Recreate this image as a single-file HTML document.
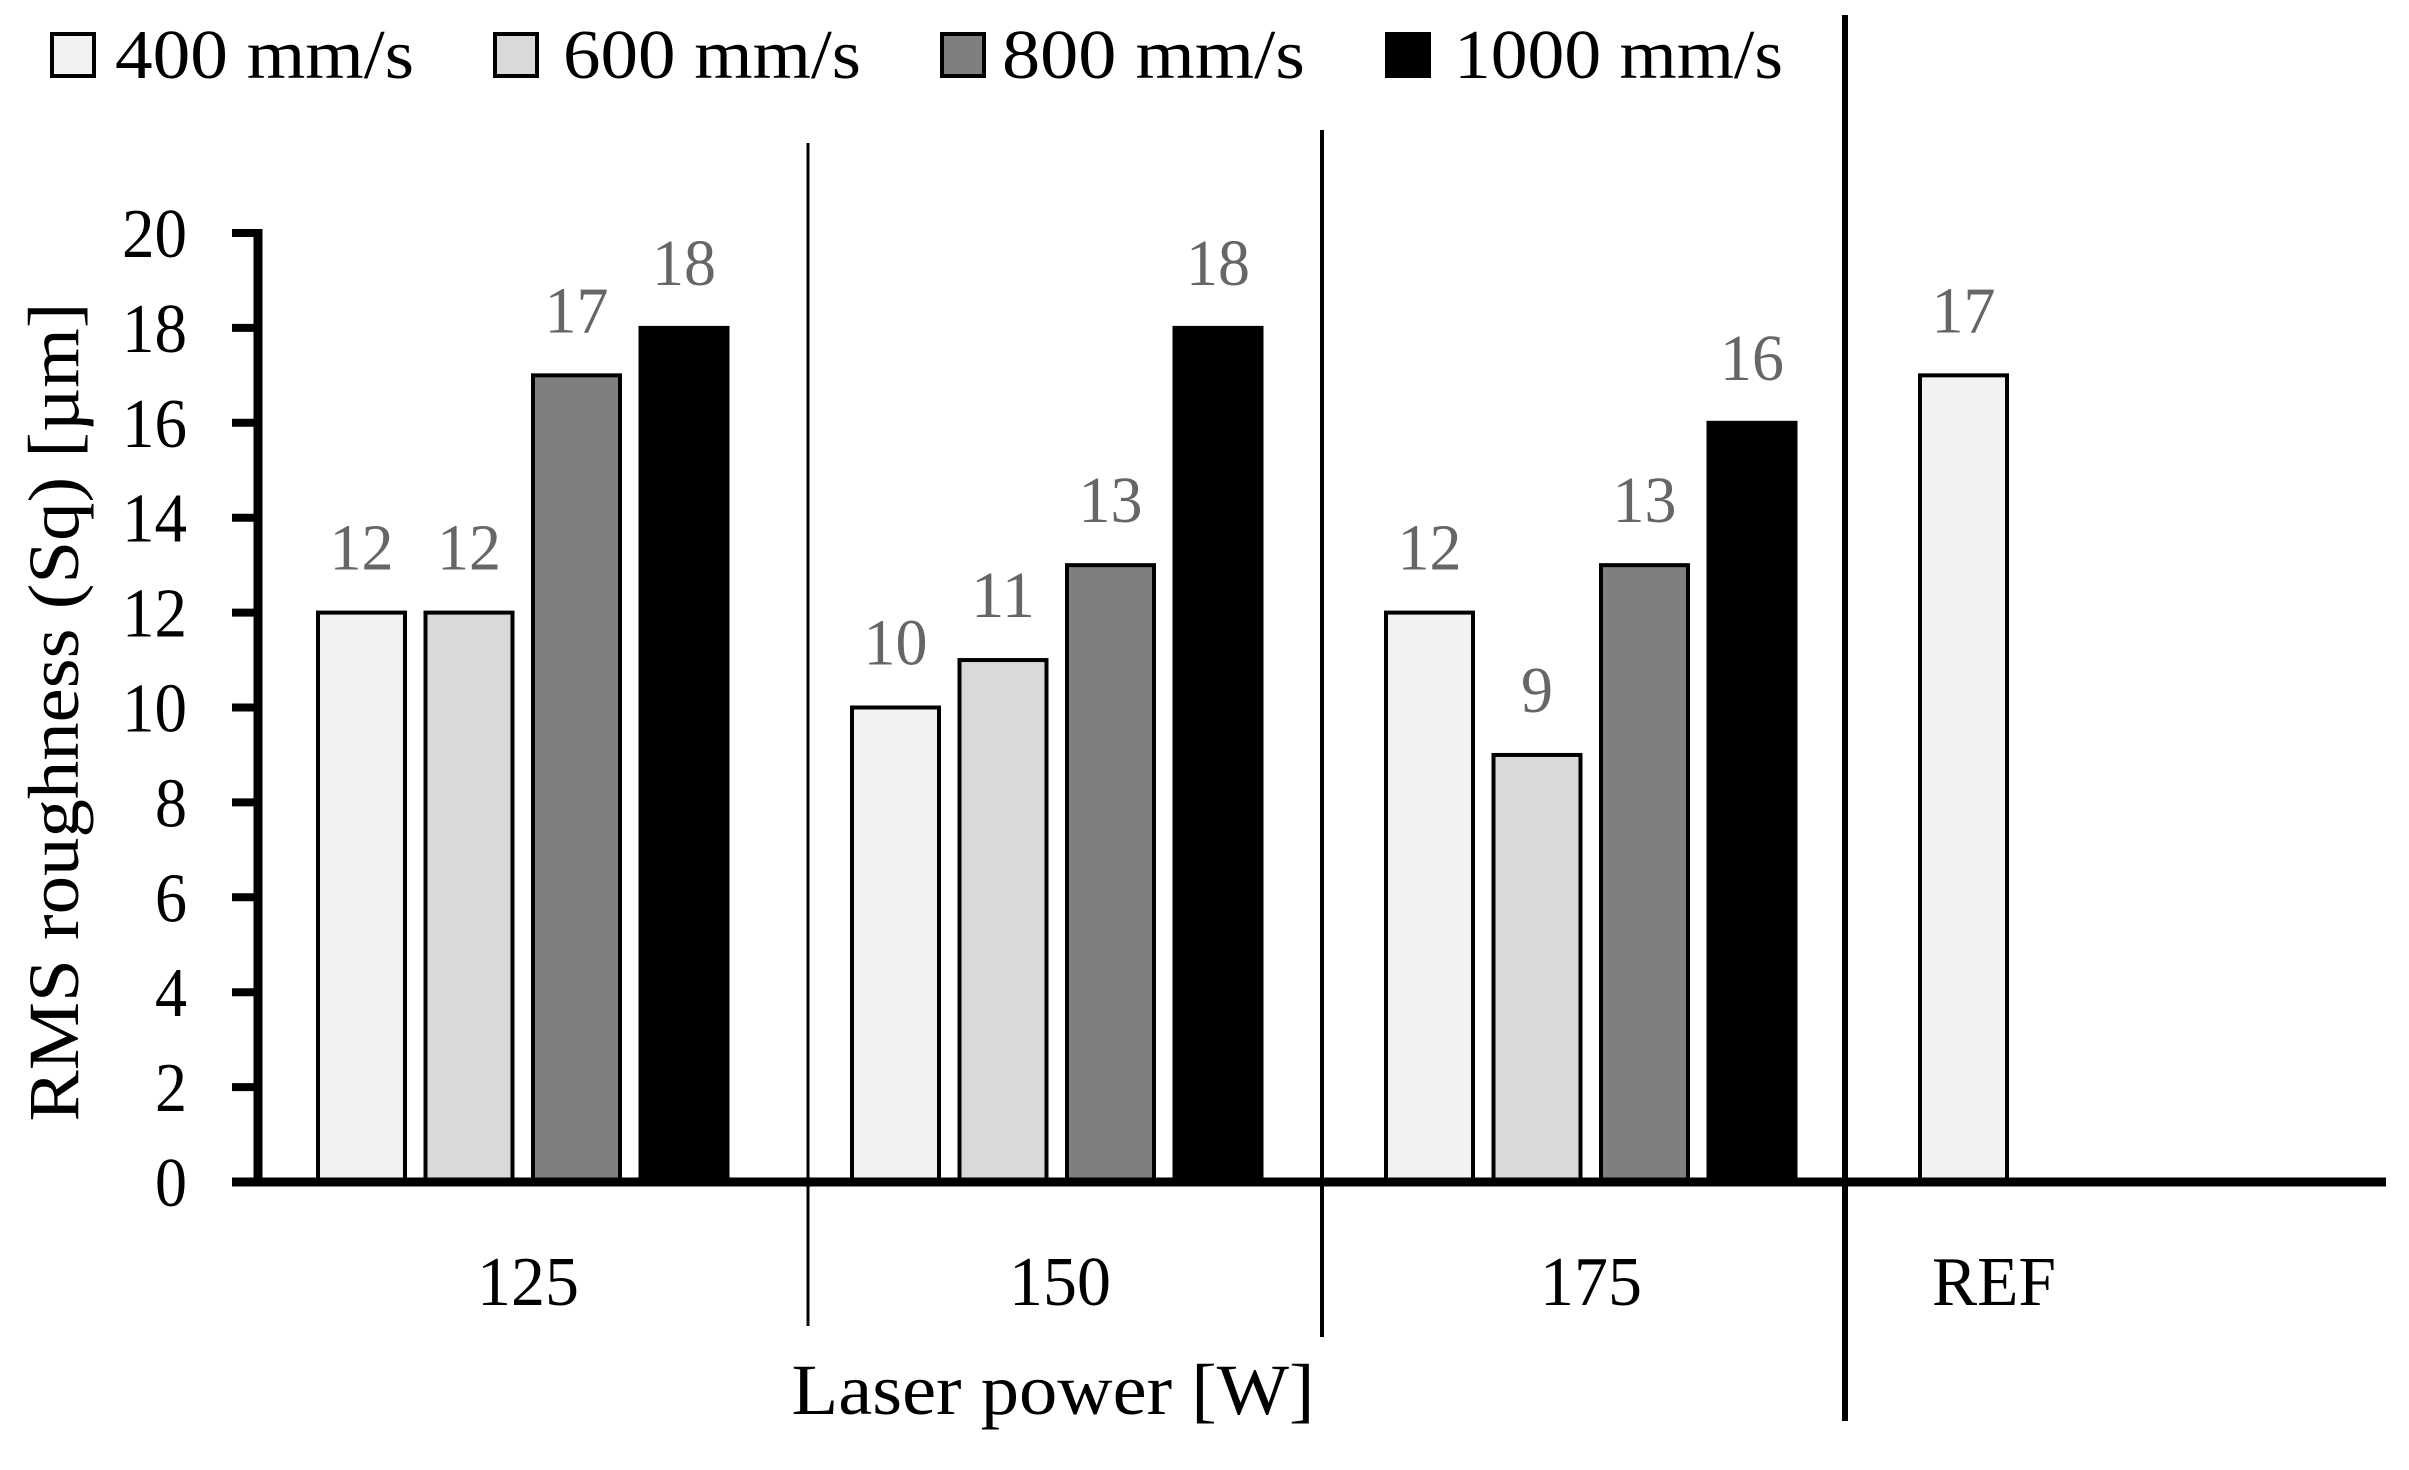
<!DOCTYPE html>
<html><head><meta charset="utf-8"><style>
body{margin:0;background:#fff}
svg{display:block;font-family:"Liberation Serif",serif}
</style></head><body>
<svg id="c" width="2409" height="1470"></svg>
<script>
const groups=["125","150","175","REF"];
const series=["400 mm/s","600 mm/s","800 mm/s","1000 mm/s"];
const colors=["#f2f2f2","#d9d9d9","#7f7f7f","#000000"];
const v400=[12,10,12,17];
const v600=[12,11,9,null];
const v800=[17,13,13,null];
const v1000=[18,18,16,null];
const yTicks=[0,2,4,6,8,10,12,14,16,18,20];
const vals=[v400,v600,v800,v1000];
const NS="http://www.w3.org/2000/svg";
const svg=document.getElementById('c');
function mk(t,a,txt){const e=document.createElementNS(NS,t);for(const k in a)e.setAttribute(k,a[k]);if(txt!==undefined)e.textContent=txt;svg.appendChild(e);return e;}
const y0=1182,yTop=233;
const y=v=>y0-(y0-yTop)*v/20;
const gx=i=>318+i*534;
const bx=(g,s)=>gx(g)+s*107.5;
const bw=87;
const dw=32;
// ticks
yTicks.forEach(t=>{
 let l=mk('line',{x1:232,x2:258,y1:y(t),y2:y(t),stroke:'#000','stroke-width':8});
 
 const s=String(t);
 let tx=mk('text',{x:187,y:y(t)+24,'text-anchor':'end','font-size':70,textLength:s.length*dw+(s.length>1?1:0),lengthAdjust:'spacingAndGlyphs'},s);
 
});
// bars
vals.forEach((arr,s)=>arr.forEach((v,g)=>{
 if(v===null)return;
 let r=mk('rect',{x:bx(g,s),y:y(v),width:bw,height:y0-y(v),fill:colors[s],stroke:'#000','stroke-width':4});
 
 const str=String(v);
 let t=mk('text',{x:bx(g,s)+bw/2,y:y(v)-43,'text-anchor':'middle','font-size':66,fill:'#666',textLength:str.length*dw,lengthAdjust:'spacingAndGlyphs'},str);
 
}));
// axes
let ya=mk('line',{x1:258,x2:258,y1:229,y2:1186,stroke:'#000','stroke-width':9});

let xa=mk('line',{x1:232,x2:2386,y1:1182,y2:1182,stroke:'#000','stroke-width':9});

// separators
[[808,143,1326,3],[1322,130,1337,4],[1845,15,1421,6]].forEach(d=>{
 let l=mk('line',{x1:d[0],x2:d[0],y1:d[1],y2:d[2],stroke:'#000','stroke-width':d[3]});
 
});
// category labels
[[528,102],[1060,102],[1591,102],[1994,124]].forEach((c,i)=>{
 let t=mk('text',{x:c[0],y:1305,'text-anchor':'middle','font-size':70,textLength:c[1],lengthAdjust:'spacingAndGlyphs'},groups[i]);
 
});
let xt=mk('text',{x:1053,y:1414,'text-anchor':'middle','font-size':72,textLength:523,lengthAdjust:'spacingAndGlyphs'},'Laser power [W]');

let yt=mk('text',{x:0,y:0,'text-anchor':'middle','font-size':72,textLength:819,lengthAdjust:'spacingAndGlyphs',transform:'translate(78,712) rotate(-90)'},'RMS roughness (Sq)  [µm]');

// legend
[[50,115,299],[493,563,298],[940,1002,303],[1385,1454,329]].forEach((p,i)=>{
 let r=mk('rect',{x:p[0]+2,y:34,width:42,height:42,fill:colors[i],stroke:'#000','stroke-width':4});
 
 let t=mk('text',{x:p[1],y:78,'font-size':70,textLength:p[2],lengthAdjust:'spacingAndGlyphs'},series[i]);
 
});
</script>
</body></html>
